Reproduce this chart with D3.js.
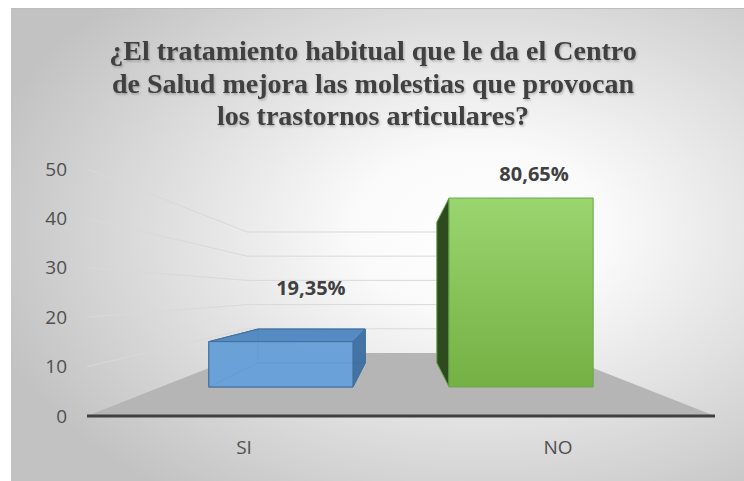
<!DOCTYPE html>
<html>
<head>
<meta charset="utf-8">
<script src="https://cdn.jsdelivr.net/npm/d3@7/dist/d3.min.js"></script>
<style>
  body { margin: 0; background: #fff; }
</style>
</head>
<body>
<div id="chart"></div>
<script>
// data (31 answers -> 6 / 25, bars drawn on a 0-50 scale)
var categories = ["SI", "NO"];
var barValues = [12, 50];
var percentLabels = ["19,35%", "80,65%"];
var yTicks = [0, 10, 20, 30, 40, 50];
var titleLines = [
  "¿El tratamiento habitual que le da el Centro",
  "de Salud mejora las molestias que provocan",
  "los trastornos articulares?"
];

var width = 744, height = 481;

// fake 3d: every point is pulled toward a vanishing point by factor s
var vp = [401, 292.5];
var sWall = 0.49, sBarFront = 0.765, sBarBack = 0.57;
// label nudges, excel puts them a bit off the bar centre
var labelNudge = [[30, -47], [13, -17]];

var svg = d3.select("#chart").append("svg")
  .attr("width", width)
  .attr("height", height);

var defs = svg.append("defs");

var bg = defs.append("radialGradient").attr("id", "bg")
  .attr("cx", "0.64").attr("cy", "0.47").attr("r", "0.7");
bg.append("stop").attr("offset", "0").attr("stop-color", "#ffffff");
bg.append("stop").attr("offset", "0.25").attr("stop-color", "#fafafa");
bg.append("stop").attr("offset", "1").attr("stop-color", "#c2c2c2");

var green = defs.append("linearGradient").attr("id", "green")
  .attr("x1", 0).attr("y1", 0).attr("x2", 0).attr("y2", 1);
green.append("stop").attr("offset", "0").attr("stop-color", "#9ad56f");
green.append("stop").attr("offset", "1").attr("stop-color", "#75b044");

var shadow = defs.append("filter").attr("id", "shadow")
  .attr("x", "-5%").attr("y", "-20%").attr("width", "110%").attr("height", "140%");
shadow.append("feDropShadow").attr("dx", 1).attr("dy", 1.5)
  .attr("stdDeviation", 1).attr("flood-color", "#000").attr("flood-opacity", 0.25);

svg.append("rect")
  .attr("x", 11).attr("y", 8)
  .attr("width", width - 11).attr("height", height - 8)
  .style("fill", "url(#bg)");
svg.append("line")
  .attr("x1", 11).attr("x2", width).attr("y1", 8.5).attr("y2", 8.5)
  .style("stroke", "#bdbdbd");

var x = d3.scaleBand().domain(categories)
  .range([87, 715])
  .paddingInner(0.4)
  .paddingOuter(0.2);

var y = d3.scaleLinear().domain([0, 50]).range([416, 169]);

var proj = function(X, v, s) {
  return [vp[0] + s * (X - vp[0]), vp[1] + s * (y(v) - vp[1])];
};

// walls: gridlines on the left wall and the back wall
var grid = svg.append("g");
yTicks.filter(function(d) { return d > 0; }).forEach(function(t) {
  var a = proj(87, t, 1), b = proj(87, t, sWall), c = proj(715, t, sWall);
  grid.append("polyline")
    .attr("points", [a, b, c].map(function(p) { return p.join(","); }).join(" "))
    .style("fill", "none")
    .style("stroke", "#d9d9d9")
    .style("stroke-width", 1);
});

// floor
var floorPts = [proj(87, 0, 1), proj(715, 0, 1), proj(715, 0, sWall), proj(87, 0, sWall)];
svg.append("polygon")
  .attr("points", floorPts.map(function(p) { return p.join(","); }).join(" "))
  .style("fill", "#b5b5b5");

svg.append("line")
  .attr("x1", x.range()[0]).attr("x2", x.range()[1])
  .attr("y1", y(0)).attr("y2", y(0))
  .style("stroke", "#404040")
  .style("stroke-width", 3);

// bars
var barStyles = [
  { front: "#6aa3da", back: "#5b93cc", top: "#5289c2", side: "#3f6e9e", stroke: "#41719c", opacity: 0.88 },
  { front: "url(#green)", back: "#70ad47", top: "#8cc760", side: "#2e4a1f", stroke: "#6aa84f", opacity: 1 }
];

categories.forEach(function(c, i) {
  var X0 = x(c), X1 = x(c) + x.bandwidth(), v = barValues[i], st = barStyles[i];
  var P = function(X, val, s) { return proj(X, val, s); };
  var faces = {
    back:   [P(X0, v, sBarBack), P(X1, v, sBarBack), P(X1, 0, sBarBack), P(X0, 0, sBarBack)],
    bottom: [P(X0, 0, sBarBack), P(X1, 0, sBarBack), P(X1, 0, sBarFront), P(X0, 0, sBarFront)],
    left:   [P(X0, v, sBarBack), P(X0, v, sBarFront), P(X0, 0, sBarFront), P(X0, 0, sBarBack)],
    right:  [P(X1, v, sBarBack), P(X1, v, sBarFront), P(X1, 0, sBarFront), P(X1, 0, sBarBack)],
    top:    [P(X0, v, sBarBack), P(X1, v, sBarBack), P(X1, v, sBarFront), P(X0, v, sBarFront)],
    front:  [P(X0, v, sBarFront), P(X1, v, sBarFront), P(X1, 0, sBarFront), P(X0, 0, sBarFront)]
  };
  var leftSeen = X0 > vp[0], rightSeen = X1 < vp[0], topSeen = y(v) > vp[1];
  var order = [];
  if (st.opacity < 1) {
    order.push(["back", st.back], ["bottom", st.back]);
    if (!leftSeen) order.push(["left", st.back]);
    if (!rightSeen) order.push(["right", st.back]);
  }
  if (leftSeen) order.push(["left", st.side]);
  if (rightSeen) order.push(["right", st.side]);
  if (topSeen) order.push(["top", st.top]);
  order.push(["front", st.front]);

  var g = svg.append("g");
  g.selectAll("polygon").data(order).enter().append("polygon")
    .attr("points", function(d) { return faces[d[0]].map(function(p) { return p.join(","); }).join(" "); })
    .style("fill", function(d) { return d[1]; })
    .style("fill-opacity", st.opacity)
    .style("stroke", st.stroke)
    .style("stroke-width", 1)
    .style("stroke-linejoin", "round");

  var anchor = P(X0 + x.bandwidth() / 2, v, sBarFront);
  svg.append("text")
    .attr("x", anchor[0] + labelNudge[i][0])
    .attr("y", anchor[1] + labelNudge[i][1])
    .attr("text-anchor", "middle")
    .style("font-family", "'Open Sans', sans-serif")
    .style("font-weight", "bold")
    .style("font-size", "20px")
    .style("fill", "#404040")
    .text(percentLabels[i]);
});

// axes
var yAxis = svg.append("g")
  .attr("transform", "translate(75,0)")
  .call(d3.axisLeft(y).tickValues(yTicks).tickSize(0).tickPadding(8));
var xAxis = svg.append("g")
  .attr("transform", "translate(0," + y(0) + ")")
  .call(d3.axisBottom(x).tickSize(0).tickPadding(25));
[yAxis, xAxis].forEach(function(a) {
  a.select(".domain").remove();
  a.selectAll("text")
    .style("font-family", "'Open Sans', sans-serif")
    .style("font-size", "19px")
    .style("fill", "#505050");
});

// title
svg.append("g").attr("filter", "url(#shadow)")
  .selectAll("text").data(titleLines).enter().append("text")
  .attr("x", 373)
  .attr("y", function(d, i) { return 60 + i * 32.5; })
  .attr("text-anchor", "middle")
  .style("font-family", "'Liberation Serif', 'Times New Roman', serif")
  .style("font-weight", "bold")
  .style("font-size", "28px")
  .style("fill", "#404040")
  .text(function(d) { return d; });
</script>
</body>
</html>
